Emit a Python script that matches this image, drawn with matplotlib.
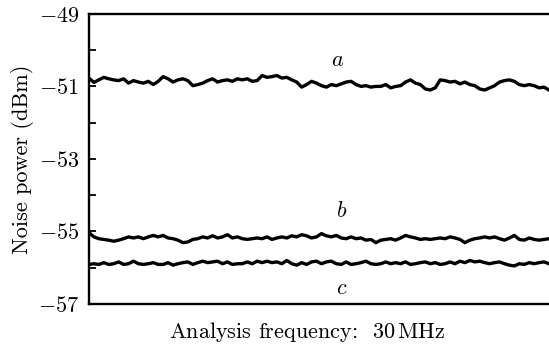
import numpy as np
import matplotlib.pyplot as plt

plt.rcParams['font.family'] = 'serif'
plt.rcParams['font.serif'] = ['cmr10']
plt.rcParams['mathtext.fontset'] = 'cm'
plt.rcParams['axes.formatter.use_mathtext'] = True

# traces (dBm), left to right, ~5 px apart
trace_a = [-50.77, -50.89, -50.82, -50.75, -50.79, -50.82, -50.84, -50.79, -50.91, -50.84,
           -50.88, -50.91, -50.86, -50.95, -50.86, -50.73, -50.79, -50.88, -50.82, -50.79,
           -50.84, -50.98, -50.95, -50.91, -50.84, -50.79, -50.88, -50.84, -50.82, -50.86,
           -50.79,
           -50.82, -50.79, -50.86, -50.84, -50.70, -50.75, -50.73, -50.70, -50.77, -50.75,
           -50.82, -50.88, -51.02, -50.95, -50.86, -50.91, -50.98, -51.02, -50.95, -50.98,
           -50.93, -50.88, -50.86, -50.95, -51.00, -50.98, -51.02, -51.00, -51.00, -50.95,
           -51.04, -51.00,
           -50.98, -50.88, -50.82, -50.91, -50.95, -51.07, -51.10, -51.04, -50.82, -50.84,
           -50.88, -50.86, -50.93, -50.88, -50.95, -50.98, -51.07, -51.10, -51.04, -50.98,
           -50.88, -50.84, -50.82, -50.86, -50.95, -50.98, -50.95, -50.98, -51.04, -51.02,
           -51.10]

trace_b = [-55.03, -55.15, -55.20, -55.22, -55.24, -55.27, -55.24, -55.20, -55.15, -55.18,
           -55.15, -55.20, -55.15, -55.11, -55.15, -55.11, -55.18, -55.20, -55.24, -55.31,
           -55.29, -55.22, -55.20, -55.15, -55.18, -55.12, -55.18, -55.15, -55.09, -55.18,
           -55.15,
           -55.20, -55.22, -55.20, -55.18, -55.20, -55.15, -55.22, -55.18, -55.15, -55.18,
           -55.12, -55.15, -55.09, -55.12, -55.18, -55.15, -55.06, -55.12, -55.15, -55.11,
           -55.18, -55.20, -55.15, -55.20, -55.18, -55.24, -55.22, -55.31, -55.24, -55.22,
           -55.20, -55.24,
           -55.18, -55.11, -55.15, -55.18, -55.22, -55.20, -55.22, -55.20, -55.18, -55.20,
           -55.15, -55.18, -55.22, -55.31, -55.24, -55.20, -55.18, -55.15, -55.18, -55.15,
           -55.20, -55.24, -55.18, -55.11, -55.22, -55.24, -55.18, -55.22, -55.24, -55.22,
           -55.20]

trace_c = [-55.91, -55.89, -55.91, -55.86, -55.91, -55.89, -55.84, -55.91, -55.89, -55.82,
           -55.89, -55.91, -55.89, -55.86, -55.91, -55.91, -55.86, -55.93, -55.89, -55.86,
           -55.84, -55.91, -55.86, -55.82, -55.86, -55.84, -55.82, -55.89, -55.84, -55.91,
           -55.89,
           -55.89, -55.84, -55.89, -55.82, -55.86, -55.82, -55.86, -55.84, -55.89, -55.80,
           -55.89, -55.93, -55.86, -55.91, -55.84, -55.82, -55.89, -55.84, -55.82, -55.89,
           -55.91, -55.84, -55.91, -55.89, -55.86, -55.82, -55.89, -55.91, -55.89, -55.84,
           -55.89, -55.86,
           -55.89, -55.84, -55.91, -55.89, -55.86, -55.84, -55.89, -55.86, -55.91, -55.89,
           -55.84, -55.89, -55.82, -55.86, -55.80, -55.84, -55.82, -55.86, -55.89, -55.86,
           -55.84, -55.89, -55.93, -55.95, -55.89, -55.91, -55.86, -55.89, -55.86, -55.84,
           -55.89]

labels = ['a', 'b', 'c']
label_pos = [(0.54, -50.27), (0.55, -54.43), (0.55, -56.56)]

fig = plt.figure(figsize=(5.49, 3.47), dpi=100)
ax = fig.add_axes([0.162, 0.124, 0.838, 0.836])

for tr in [trace_a, trace_b, trace_c]:
    x = np.linspace(0, 1, len(tr))
    ax.plot(x, tr, color='black', lw=2.4, solid_joinstyle='round')

for lab, (lx, ly) in zip(labels, label_pos):
    ax.text(lx, ly, f'${lab}$', fontsize=16, ha='center', va='center')

ax.set_xlim(0, 1)
ax.set_ylim(-57, -49)
ax.set_yticks([-49, -51, -53, -55, -57])
ax.set_yticks([-50, -52, -54, -56], minor=True)
ax.set_xticks([])
ax.tick_params(axis='y', which='both', direction='in', length=5, width=1.3, labelsize=16, pad=7)
ax.spines['right'].set_visible(False)
for s in ['left', 'top', 'bottom']:
    ax.spines[s].set_linewidth(1.7)

ax.set_ylabel('Noise power (dBm)', fontsize=16, labelpad=3)
ax.set_xlabel('Analysis frequency:  30$\\,$MHz', fontsize=16)
ax.xaxis.set_label_coords(0.474, -0.055)

fig.savefig('out.png', dpi=100)
